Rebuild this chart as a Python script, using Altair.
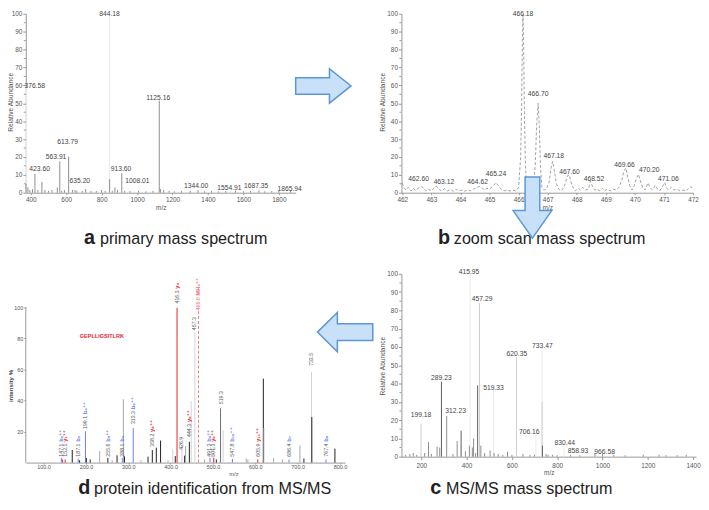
import altair as alt
import pandas as pd

FONT = "Liberation Sans"
SUBFONT = "Liberation Sans, DejaVu Sans"

# ---------------- (a) primary mass spectrum ----------------
a_mz = [844.18, 376.58, 423.60, 563.91, 613.79, 635.20, 913.60, 1008.01, 1125.16, 1344.00, 1554.91, 1687.35, 1865.94]
a_int = [100.0, 59.0, 10.5, 17.5, 20.2, 1.5, 11.0, 1.0, 51.4, 1.5, 1.2, 1.3, 1.5]
a_tone = ["faint", "faint", "mid", "mid", "mid", "mid", "mid", "mid", "mid", "mid", "mid", "mid", "mid"]
a_noise_mz = [373, 384, 395, 410, 440, 463, 480, 500, 520, 550, 575, 590, 650, 660, 690, 710, 740, 770, 800,
              820, 845, 860, 875, 890, 930, 960, 1050, 1090, 1132, 1150, 1180, 1210, 1250, 1300, 1380, 1420,
              1460, 1500, 1600, 1640, 1720, 1760, 1800]
a_noise_int = [5, 3, 1.5, 2, 1.5, 6, 1.5, 1, 1.5, 3, 1, 1.5, 1.5, 1, 1, 2, 1, 1, 1.5, 1, 7.6, 1, 3, 1.5, 1, 1,
               0.8, 1, 2, 1.5, 1, 0.8, 1, 1, 0.8, 1, 0.8, 1, 0.8, 1, 0.8, 1, 1]
a_lab_text = ["844.18", "376.58", "1125.16", "613.79", "563.91", "423.60", "913.60", "635.20", "1008.01",
              "1344.00", "1554.91", "1687.35", "1865.94"]
a_lab_mz = [844.18, 422.3, 1119.5, 608, 543, 450, 909, 677, 1002, 1333, 1521, 1672, 1861]
a_lab_lvl = [100, 59.6, 53, 28.4, 19.7, 13, 13.3, 6.6, 6.6, 3.8, 2.7, 3.8, 2.2]
a_xticks = [400, 600, 800, 1000, 1200, 1400, 1600, 1800]

# ---------------- (b) zoom scan ----------------
b_prof_mz = [462.00, 462.05, 462.12, 462.20, 462.30, 462.38, 462.45, 462.55, 462.65, 462.72, 462.80, 462.90,
             463.00, 463.08, 463.17, 463.25, 463.35, 463.45, 463.55, 463.65, 463.75, 463.85, 463.95, 464.05,
             464.15, 464.25, 464.35, 464.45, 464.55, 464.65, 464.73, 464.82, 464.90, 465.00, 465.10, 465.22,
             465.30, 465.40, 465.50, 465.60, 465.70, 465.80, 465.90, 466.00, 466.07, 466.10, 466.13, 466.15,
             466.17, 466.20, 466.23, 466.27, 466.32, 466.40, 466.50, 466.57, 466.62, 466.67, 466.71, 466.75,
             466.80, 466.88, 466.95, 467.05, 467.12, 467.17, 467.22, 467.30, 467.38, 467.45, 467.52, 467.60,
             467.68, 467.74, 467.80, 467.88, 467.95, 468.05, 468.12, 468.20, 468.30, 468.40, 468.47, 468.55,
             468.62, 468.70, 468.80, 468.88, 468.95, 469.05, 469.15, 469.25, 469.35, 469.45, 469.55, 469.62,
             469.69, 469.75, 469.82, 469.90, 469.98, 470.05, 470.12, 470.18, 470.26, 470.35, 470.45, 470.52,
             470.60, 470.70, 470.78, 470.85, 470.95, 471.02, 471.08, 471.15, 471.25, 471.35, 471.45, 471.55,
             471.65, 471.75, 471.85, 471.93, 472.00]
b_prof_int = [5.5, 3, 1.5, 3, 1, 2.5, 1.2, 2.5, 3.5, 2.8, 1, 2,
              1, 2.5, 3.8, 2, 1, 2.2, 1, 1.8, 0.8, 2, 1, 1.5,
              0.8, 1.7, 1, 2, 2.8, 3.5, 3, 1.5, 2.5, 2, 3.5, 5.6,
              4, 2, 1, 1.5, 1, 1.5, 1, 3, 20, 45, 85, 99.5,
              85, 45, 18, 4, 1, 2, 3, 15, 38, 50, 38, 15,
              3, 1.5, 2, 6, 14, 17.5, 13, 5, 2, 1, 2, 5,
              9.5, 10, 6, 2.5, 1, 2.5, 1.5, 3, 1.5, 2, 6.5, 3,
              1.5, 2, 1, 2.5, 1, 2, 1, 2, 1.5, 3, 7, 12,
              13.8, 9, 4, 1.5, 4, 8, 10.3, 7, 3, 1.5, 5.5, 3,
              1.5, 4, 2, 1, 3.5, 5.6, 3, 1.5, 3, 1.5, 2, 1,
              1.5, 1, 2.5, 3.5, 1.5]
b_lab_text = ["466.18", "466.70", "467.18", "467.60", "468.52", "469.66", "470.20", "471.06", "465.24",
              "464.62", "463.12", "462.60"]
b_lab_mz = [466.15, 466.67, 467.21, 467.75, 468.59, 469.64, 470.49, 471.15, 465.22, 464.59, 463.43, 462.56]
b_lab_lvl = [100, 55.1, 20.3, 11.5, 7.7, 15.4, 12.6, 7.9, 10.6, 6.2, 5.7, 7.5]
b_xticks = [462, 463, 464, 465, 466, 467, 468, 469, 470, 471, 472]

# ---------------- (c) MS/MS ----------------
c_mz = [415.95, 519.33, 706.16, 733.47, 830.44, 199.18, 232, 270, 281.5, 289.23, 312.23, 358.6, 376, 412.5,
        425.6, 431, 449, 457.29, 463, 504, 521.5, 581, 620.35, 649, 733.47, 735, 751, 780, 858.93, 966.58]
c_int = [100, 37, 13, 60, 5, 18, 8, 5.4, 5, 41, 22.2, 8.5, 14.2, 6,
         5, 10, 39, 84, 6, 3.4, 2, 2.7, 54.5, 1.5, 30, 6, 1.5, 1, 1, 2]
c_tone = ["faint", "faint", "faint", "faint", "faint", "light", "mid", "mid", "mid", "dark", "mid", "mid",
          "dark", "mid", "mid", "mid", "dark", "light", "mid", "mid", "mid", "mid", "light", "mid", "light",
          "dark", "mid", "mid", "mid", "mid"]
c_noise_mz = [130, 150, 165, 180, 215, 245, 340, 395, 440, 480, 540, 560, 600, 680, 700, 760, 800, 900, 1000,
              1050, 1100, 1180, 1250, 1280, 1330, 1370]
c_noise_int = [1, 1.5, 2, 1, 2, 1.5, 1.5, 3, 2, 2, 1.5, 1, 1, 1, 1, 1, 0.8, 0.8, 1.5, 1, 0.8, 1, 1, 0.8, 0.8, 1]
c_lab_text = ["415.95", "457.29", "733.47", "620.35", "289.23", "519.33", "312.23", "199.18", "706.16",
              "830.44", "858.93", "966.58"]
c_lab_mz = [411, 468.7, 734.7, 622.2, 289, 519.1, 351.7, 198.8, 676.5, 833.5, 892, 1009.6]
c_lab_lvl = [101.2, 86, 60.7, 56.2, 43, 37.7, 24.7, 22.5, 13.5, 7.7, 3.1, 2.5]
c_xticks = [200, 400, 600, 800, 1000, 1200, 1400]

# ---------------- (d) protein identification ----------------
d_mz = [142, 145, 151, 167.7, 181.7, 185, 198.9, 201, 210, 232.4, 251.8, 262, 273.5, 286, 288.4, 291, 311.7,
        330, 346.7, 356.8, 366.2, 376.3, 394, 405.1, 411, 426.9, 433.1, 435.4, 444.3, 448.6, 457.3,
        480, 493, 500.8, 502, 508, 517.9, 524, 546, 578.6, 582.5, 605.9, 619, 620.8, 643.2, 664, 679.7,
        705.4, 714.8, 732.7, 733.5, 767, 788, 415.2]
d_int = [3, 2, 2, 8.1, 2.5, 1.5, 20.2, 3, 2, 7.4, 3, 1.5, 4.7, 3, 40.8, 4, 22.3,
         1.5, 3.8, 8.1, 9.6, 14.2, 1.5, 8.5, 4.2, 10.5, 4.5, 10.6, 13.4, 39.7, 83.9,
         2, 3, 10, 3, 2, 35, 20.8, 2.5, 2.8, 2, 2, 54.1, 22.3, 3, 2, 2,
         11, 2.7, 58.4, 29.3, 2, 9, 99.8]
d_kind = ["blue", "red", "red", "black", "blue", "black", "blue", "black", "black", "gray", "black", "gray",
          "black", "blue", "gray", "black", "blue", "gray", "black", "black", "black", "black", "gray", "light",
          "black", "light", "black", "gray", "black", "light", "light", "gray", "blue", "light", "red",
          "black", "dgray", "light", "blue", "gray", "gray", "red", "black", "light", "gray", "gray", "blue",
          "gray", "black", "light", "black", "blue", "black", "red"]
d_prec_mz = [465.8]
d_prec_int = [97.6]
d_lab_num = ["416.3", "466.0", "457.3", "444.3", "426.9", "519.3", "733.5", "313.3", "199.1", "358.2", "288.1",
             "255.6", "187.1", "147.1", "152.1", "491.3", "501.3", "547.8", "605.9", "686.4", "767.4"]
d_lab_ion = ["y₄", "MH₂⁺⁺", "", "y₈⁺⁺", "", "", "", "b₆⁺⁺", "b₄⁺⁺", "y₆⁺⁺", "b₃", "b₅⁺⁺", "b₂", "b₂⁺⁺",
             "y₁⁺⁺", "b₉⁺⁺", "y₉⁺⁺", "b₁₀⁺⁺", "y₁₁⁺⁺", "b₇", "b₈"]
d_lab_kind = ["red", "pink", "none", "red", "none", "none", "none", "blue", "blue", "red", "blue", "blue",
              "blue", "blue", "red", "blue", "red", "blue", "red", "blue", "blue"]
d_lab_numkind = ["num", "pink", "num", "num", "num", "num", "num", "num", "num", "num", "num", "num", "num",
                 "num", "num", "num", "num", "num", "num", "num", "num"]
d_lab_mz = [415.2, 465.8, 456.4, 444, 425.3, 517.9, 732.7, 311.7, 198.9, 356.8, 286, 251.8, 181.7, 142, 150,
            491, 501, 546, 605.9, 680, 767]
d_lab_lvl = [101.9, 97.5, 84.7, 15.9, 7.6, 37, 61.6, 24.2, 21, 9.6, 3.2, 3.2, 3.2, 3.2, 3.2, 3.2, 3.2, 3.2,
             3.2, 3.2, 3.2]
d_xticks = [100, 200, 300, 400, 500, 600, 700, 800]
d_yticks = [20, 40, 60, 80, 100]
d_axis_span = [0, 100]
pep_text = ["GEPLLIGSITLRK"]
pep_mz = [237.7]
pep_lvl = [81.5]

thermo_major = list(range(0, 101, 10))
thermo_minor = list(range(5, 100, 10))

# ---------------- styles ----------------
TONE = {"faint": "#ececec", "light": "#cdcdcd", "mid": "#8e8e8e", "dark": "#5e5e5e"}
KIND = {"black": "#1e1e1e", "dgray": "#6f6f6f", "gray": "#a8a8a8", "light": "#d2d2d2", "red": "#e3242b",
        "blue": "#6c80ec", "pink": "#ee6f78", "num": "#5a5a5a", "none": "#ffffff"}
one = pd.DataFrame({"k": [1]})


def thermo_panel(peaks, labels, xdom, xticks, ytitle_x, ytitle_y, xtick_size=2, xlab_pad=2, profile=None):
    xs = alt.Scale(domain=xdom, nice=False, zero=False)
    ys = alt.Scale(domain=[0, 100], nice=False)
    xaxis = alt.Axis(values=xticks, labelFontSize=6.5, labelColor="#555", labelPadding=xlab_pad,
                     tickSize=xtick_size, tickColor="#999", domainColor="#999", grid=False, title="m/z",
                     titleFontSize=6.5, titleFontWeight="normal", titleColor="#555", titlePadding=1,
                     labelFlush=False, labelOverlap=False, labelSeparation=0, format="d")
    yaxis = alt.Axis(values=thermo_major, labelFontSize=6.5, labelColor="#555", labelPadding=1, tickSize=3,
                     tickColor="#999", domainColor="#999", grid=False, title="Relative Abundance",
                     labelOverlap=False, labelSeparation=0, titleFontSize=6.7, titleFontWeight="normal",
                     titleColor="#555", titleX=ytitle_x, titleY=ytitle_y, titleAlign="center", titleAngle=270)
    layers = []
    if profile is not None:
        layers.append(alt.Chart(profile).mark_line(strokeDash=[3, 2], color="#8a8a8a", strokeWidth=0.8).encode(
            x=alt.X("mz:Q", scale=xs, axis=xaxis), y=alt.Y("v:Q", scale=ys, axis=yaxis)))
    else:
        layers.append(alt.Chart(peaks).mark_rule(strokeWidth=1).encode(
            x=alt.X("mz:Q", scale=xs, axis=xaxis), y=alt.Y("v:Q", scale=ys, axis=yaxis), y2=alt.datum(0),
            color=alt.Color("col:N", scale=None)))
    minor = pd.DataFrame({"v": thermo_minor})
    layers.append(alt.Chart(minor).mark_rule(color="#999", strokeWidth=1).encode(
        y=alt.Y("v:Q", scale=ys, axis=yaxis), x=alt.value(0), x2=alt.value(-2)))
    layers.append(alt.Chart(labels).mark_text(fontSize=6.8, color="#444", font=FONT).encode(
        x=alt.X("mz:Q", scale=xs, axis=xaxis), y=alt.Y("v:Q", scale=ys, axis=yaxis), text="t:N"))
    return layers


def caption(letter, text, x, y):
    return [
        alt.Chart(one).mark_text(text=letter, fontSize=20, fontWeight="bold", color="#222", align="left",
                                 baseline="alphabetic", font=FONT).encode(x=alt.value(x), y=alt.value(y)),
        alt.Chart(one).mark_text(text=text, fontSize=16.3, color="#222", align="left", baseline="alphabetic",
                                 font=FONT).encode(x=alt.value(x + 16), y=alt.value(y)),
    ]


def arrow(path, x, y, size):
    return alt.Chart(one).mark_point(shape=path, filled=True, fill="#c8e0f8", stroke="#5b96d8",
                                     strokeWidth=1.5, size=size, opacity=1).encode(
        x=alt.value(x), y=alt.value(y))


RIGHT = "M-1,-0.3L0.22,-0.3L0.22,-0.62L1,0L0.22,0.62L0.22,0.3L-1,0.3Z"
LEFT = "M1,-0.3L-0.28,-0.3L-0.28,-0.71L-1,0L-0.28,0.71L-0.28,0.3L1,0.3Z"
DOWN = "M-0.24,-1L0.24,-1L0.24,0.1L0.63,0.1L0,1L-0.63,0.1L-0.24,0.1Z"

# ---------------- panel a ----------------
a_peaks = pd.DataFrame({"mz": a_mz + a_noise_mz, "v": a_int + a_noise_int,
                        "col": [TONE[t] for t in a_tone + ["mid"] * len(a_noise_mz)]})
a_labels = pd.DataFrame({"mz": a_lab_mz, "v": a_lab_lvl, "t": a_lab_text})
WA, HA = 273, 181
pa_layers = thermo_panel(a_peaks, a_labels, [372.1, 1894.8], a_xticks, -12, 89)
pa_layers += caption("a", "primary mass spectrum", 59, 232.5)
pa_layers.append(arrow(RIGHT, 301, 73, 3136))
panel_a = alt.layer(*pa_layers).properties(width=WA, height=HA)

# ---------------- panel b ----------------
b_profile = pd.DataFrame({"mz": b_prof_mz, "v": b_prof_int})
b_labels = pd.DataFrame({"mz": b_lab_mz, "v": b_lab_lvl, "t": b_lab_text})
WB, HB = 295, 181
pb_layers = thermo_panel(None, b_labels, [461.97, 472.0], b_xticks, -16, 89, profile=b_profile)
pb_layers += caption("b", "zoom scan mass spectrum", 37, 232.5)
pb_layers.append(arrow(DOWN, 132.5, 196, 3844))
panel_b = alt.layer(*pb_layers).properties(width=WB, height=HB)

# ---------------- panel c ----------------
c_peaks = pd.DataFrame({"mz": c_mz + c_noise_mz, "v": c_int + c_noise_int,
                        "col": [TONE[t] for t in c_tone + ["mid"] * len(c_noise_mz)]})
c_labels = pd.DataFrame({"mz": c_lab_mz, "v": c_lab_lvl, "t": c_lab_text})
WC, HC = 298, 185
pc_layers = thermo_panel(c_peaks, c_labels, [112.7, 1413.1], c_xticks, -16, 93, xtick_size=3, xlab_pad=2.5)
pc_layers += caption("c", "MS/MS mass spectrum", 29, 222.5)
panel_c = alt.layer(*pc_layers).properties(width=WC, height=HC)

# ---------------- panel d ----------------
WD, HD = 323, 191
dxs = alt.Scale(domain=[58.0, 812.1], nice=False, zero=False)
dys = alt.Scale(domain=[0, 121.66], nice=False)
d_xaxis = alt.Axis(values=d_xticks, labelExpr="format(datum.value, '.1f')", labelFontSize=5.5,
                   labelColor="#555", labelPadding=0.5, tickSize=1.5, tickColor="#999", domainColor="#999",
                   grid=False, title="m/z", titleFontSize=5.8, titleFontWeight="normal", titleColor="#555",
                   titleX=210, titleY=8, titleBaseline="top", labelFlush=False, labelOverlap=False)
d_yaxis = alt.Axis(values=d_yticks, labelFontSize=5.5, labelColor="#555", labelPadding=1, tickSize=2,
                   tickColor="#999", domain=False, grid=False, title="intensity %", titleFontSize=6.2,
                   titleFontWeight="bold", titleColor="#444", titleX=-12, titleY=113, titleAlign="center",
                   titleAngle=270, labelOverlap=False)
d_peaks = pd.DataFrame({"mz": d_mz, "v": d_int, "col": [KIND[k] for k in d_kind]})
d_prec = pd.DataFrame({"mz": d_prec_mz, "v": d_prec_int})
d_labels = pd.DataFrame({"mz": d_lab_mz, "v": d_lab_lvl, "num": d_lab_num, "ion": d_lab_ion,
                         "col": [KIND[k] for k in d_lab_kind], "numcol": [KIND[k] for k in d_lab_numkind]})
d_span = pd.DataFrame({"v": [d_axis_span[0]], "v2": [d_axis_span[1]]})
pep = pd.DataFrame({"mz": pep_mz, "v": pep_lvl, "t": pep_text})

pd_layers = [
    alt.Chart(d_peaks).mark_rule(strokeWidth=1).encode(
        x=alt.X("mz:Q", scale=dxs, axis=d_xaxis), y=alt.Y("v:Q", scale=dys, axis=d_yaxis), y2=alt.datum(0),
        color=alt.Color("col:N", scale=None)),
    alt.Chart(d_prec).mark_rule(strokeWidth=1, strokeDash=[3, 2], color="#ee7a82").encode(
        x=alt.X("mz:Q", scale=dxs), y=alt.Y("v:Q", scale=dys), y2=alt.datum(0)),
    alt.Chart(d_span).mark_rule(color="#999", strokeWidth=1).encode(
        x=alt.value(0), y=alt.Y("v:Q", scale=dys), y2="v2:Q"),
    alt.Chart(d_labels).mark_text(angle=270, align="left", baseline="middle", fontSize=5.3, font=FONT,
                                  dx=1).encode(
        x=alt.X("mz:Q", scale=dxs), y=alt.Y("v:Q", scale=dys), text="num:N",
        color=alt.Color("numcol:N", scale=None)),
    alt.Chart(d_labels).mark_text(angle=270, align="left", baseline="middle", fontSize=5.8, font=SUBFONT,
                                  fontWeight="bold", dx=16).encode(
        x=alt.X("mz:Q", scale=dxs), y=alt.Y("v:Q", scale=dys), text="ion:N",
        color=alt.Color("col:N", scale=None)),
    alt.Chart(pep).mark_text(fontSize=5.6, fontWeight="bold", color="#e3242b", font=FONT).encode(
        x=alt.X("mz:Q", scale=dxs), y=alt.Y("v:Q", scale=dys), text="t:N"),
]
pd_layers += caption("d", "protein identification from MS/MS", 53, 222.5)
pd_layers.append(arrow(LEFT, 323, 59, 3136))
panel_d = alt.layer(*pd_layers).properties(width=WD, height=HD)

chart = alt.concat(panel_a, panel_b, panel_d, panel_c, columns=2, spacing={"row": 82, "column": 57},
                   bounds="flush", align="each", padding=0).configure(font=FONT).configure_view(
    strokeWidth=0).configure_axis(labelOverlap=False, labelSeparation=0)

chart.save("out.html", embed_options={"renderer": "svg", "actions": False})
